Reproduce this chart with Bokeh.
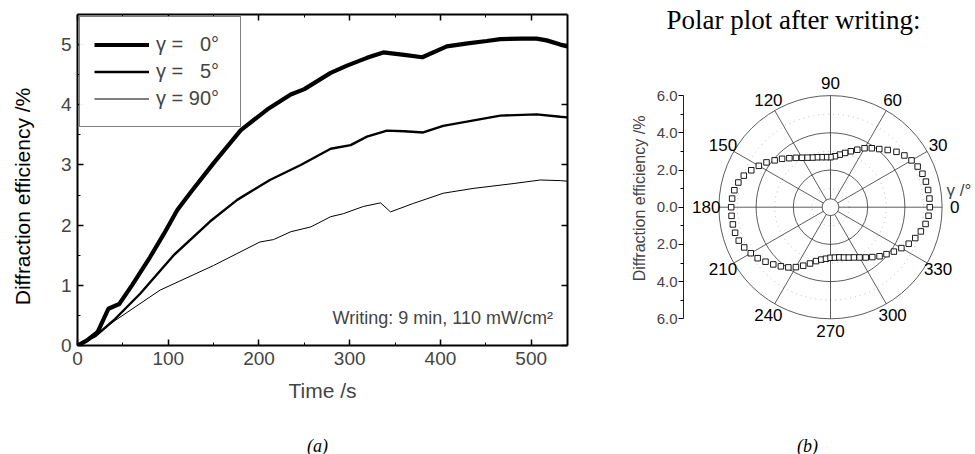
import numpy as np
from bokeh.plotting import figure
from bokeh.layouts import row, column
from bokeh.models import (Range1d, LinearAxis, Legend, LegendItem, Label,
                          FixedTicker, CustomJSTickFormatter, SingleIntervalTicker)
from bokeh.core.properties import value
from bokeh.embed import file_html
from bokeh.resources import INLINE

# ---------------- data (a) ----------------
t_g0 = [0, 10, 22, 34, 46, 60, 80, 95, 110, 125, 150, 180, 209, 235, 250, 279, 297,
        319, 337, 360, 380, 407, 430, 451, 466, 490, 506, 517, 532, 540]
eff_g0 = [0, 0.08, 0.22, 0.61, 0.69, 1.0, 1.47, 1.85, 2.25, 2.55, 3.03, 3.58, 3.92,
          4.17, 4.26, 4.53, 4.65, 4.78, 4.87, 4.83, 4.79, 4.97, 5.02, 5.06, 5.09,
          5.1, 5.1, 5.07, 5.0, 4.97]
t_g5 = [0, 20, 40, 69, 106, 146, 176, 212, 246, 279, 301, 319, 341, 360, 381, 403,
        429, 466, 506, 532, 540]
eff_g5 = [0, 0.16, 0.42, 0.86, 1.5, 2.06, 2.42, 2.75, 3.0, 3.27, 3.33, 3.47, 3.57,
          3.56, 3.54, 3.65, 3.72, 3.82, 3.84, 3.8, 3.79]
t_g90 = [0, 20, 36, 91, 150, 201, 216, 235, 257, 279, 293, 315, 334, 345, 370, 403,
         436, 480, 510, 532, 540]
eff_g90 = [0, 0.15, 0.36, 0.92, 1.33, 1.72, 1.76, 1.89, 1.97, 2.14, 2.19, 2.31, 2.37,
           2.22, 2.36, 2.53, 2.61, 2.69, 2.75, 2.74, 2.73]
legend_labels = ["\u03b3 = \u20070\u00b0", "\u03b3 = \u20075\u00b0", "\u03b3 = 90\u00b0"]

# ---------------- data (b) ----------------
gamma_deg = [0, 5, 10, 15, 20, 25, 30, 35, 40, 45, 50, 55, 60, 65, 70, 75, 80, 85,
             90, 95, 100, 105, 110, 115, 120, 125, 130, 135, 140, 145, 150, 155, 160,
             165, 170, 175, 180, 185, 190, 195, 200, 205, 210, 215, 220, 225, 230, 235,
             240, 245, 250, 255, 260, 265, 270, 275, 280, 285, 290, 295, 300, 305, 310,
             315, 320, 325, 330, 335, 340, 345, 350, 355]
eff_polar = [5.34, 5.34, 5.33, 5.31, 5.26, 5.17, 5.03, 4.85, 4.63, 4.35, 4.08, 3.87,
             3.66, 3.41, 3.2, 3.02, 2.87, 2.75, 2.69, 2.7, 2.73, 2.78, 2.84, 2.94,
             3.07, 3.24, 3.44, 3.68, 3.92, 4.2, 4.45, 4.7, 4.96, 5.13, 5.25, 5.31,
             5.34, 5.34, 5.33, 5.31, 5.25, 5.12, 4.95, 4.78, 4.56, 4.35, 4.15, 3.95,
             3.72, 3.47, 3.22, 3.0, 2.86, 2.78, 2.72, 2.72, 2.74, 2.8, 2.88, 2.98,
             3.12, 3.3, 3.5, 3.73, 3.93, 4.16, 4.4, 4.64, 4.85, 5.03, 5.19, 5.29]
angle_ticks = [0, 30, 60, 90, 120, 150, 180, 210, 240, 270, 300, 330]
radial_ticks = [-6, -4, -2, 0, 2, 4, 6]
radial_minor = [-5, -3, -1, 1, 3, 5]
grid_radii = [2, 4, 6]
minor_radii = [1, 3, 5]

SANS = "Liberation Sans"
SERIF = "Liberation Serif"


def text_panel(w, h):
    """A blank figure whose data units are pixels, used to hold free texts."""
    f = figure(width=w, height=h, output_backend="svg", toolbar_location=None,
               x_range=Range1d(0, w), y_range=Range1d(0, h),
               x_axis_type=None, y_axis_type=None,
               min_border_left=0, min_border_right=0, min_border_top=0,
               min_border_bottom=0)
    f.frame_align = False
    f.outline_line_color = None
    f.xgrid.visible = False
    f.ygrid.visible = False
    return f


# ================= y label of (a) =================
ylab = text_panel(40, 420)
ylab.text(x=[22], y=[420 - 196], text=["Diffraction efficiency /%"], angle=np.pi / 2,
          text_align="center", text_baseline="middle", text_font=value(SANS),
          text_font_size="21px", text_color="black")

# ================= figure (a) =================
p1 = figure(width=550, height=420, output_backend="svg", toolbar_location=None,
            x_range=Range1d(0, 540), y_range=Range1d(0, 5.5),
            min_border_left=37, min_border_right=23, min_border_top=14,
            min_border_bottom=75)
p1.frame_align = False
p1.outline_line_color = None
p1.xgrid.visible = False
p1.ygrid.visible = False

p1.xaxis.ticker = SingleIntervalTicker(interval=100, num_minor_ticks=2)
p1.yaxis.ticker = SingleIntervalTicker(interval=1, num_minor_ticks=2)
for ax in (p1.xaxis[0], p1.yaxis[0]):
    ax.axis_line_width = 2
    ax.major_tick_in = 6
    ax.major_tick_out = 0
    ax.minor_tick_in = 3
    ax.minor_tick_out = 0
    ax.major_tick_line_width = 1.5
    ax.major_label_text_font = SANS
    ax.major_label_text_font_size = "19px"
    ax.major_label_standoff = 6
p1.xaxis.axis_label = "Time /s"
p1.xaxis.axis_label_text_font = SANS
p1.xaxis.axis_label_text_font_size = "21px"
p1.xaxis.axis_label_text_font_style = "normal"
p1.xaxis.axis_label_standoff = 11

no_labels = CustomJSTickFormatter(code="return ''")
top_ax = LinearAxis(ticker=SingleIntervalTicker(interval=100, num_minor_ticks=2),
                    formatter=no_labels, major_label_text_font_size="1px",
                    axis_line_width=2, major_tick_line_width=1.5,
                    major_tick_in=6, major_tick_out=0, minor_tick_in=3,
                    minor_tick_out=0, major_label_standoff=0)
right_ax = LinearAxis(ticker=SingleIntervalTicker(interval=1, num_minor_ticks=0),
                      formatter=no_labels, major_label_text_font_size="1px",
                      axis_line_width=2, major_tick_line_width=1.5,
                      major_tick_in=6, major_tick_out=0, minor_tick_in=0,
                      minor_tick_out=0, major_label_standoff=0)
p1.add_layout(top_ax, "above")
p1.add_layout(right_ax, "right")

r0 = p1.line(t_g0, eff_g0, line_color="black", line_width=4.2)
r5 = p1.line(t_g5, eff_g5, line_color="black", line_width=2.4)
r90 = p1.line(t_g90, eff_g90, line_color="black", line_width=1)

legend = Legend(items=[LegendItem(label=legend_labels[0], renderers=[r0]),
                       LegendItem(label=legend_labels[1], renderers=[r5]),
                       LegendItem(label=legend_labels[2], renderers=[r90])],
                location="top_left")
legend.margin = 2
legend.padding = 14
legend.spacing = 0
legend.label_height = 27
legend.label_width = 70
legend.glyph_height = 27
legend.glyph_width = 55
legend.label_standoff = 7
legend.border_line_color = "black"
legend.border_line_width = 1
legend.label_text_font = SANS
legend.label_text_font_size = "20px"
p1.add_layout(legend)

p1.add_layout(Label(x=524, y=0.45, text="Writing: 9 min, 110 mW/cm\u00b2",
                    text_align="right", text_baseline="alphabetic",
                    text_font=SANS, text_font_size="18px"))

# ================= title of (b) =================
ptitle = text_panel(385, 40)
ptitle.text(x=[793 - 590], y=[40 - 19], text=["Polar plot after writing:"],
            text_align="center", text_baseline="middle", text_font=value(SERIF),
            text_font_size="27px", text_color="black")

# ================= figure (b) =================
S = 18.6           # px per unit
TOP, BOT = 40, 356  # frame top / bottom on the page (px)
CY = 206.7          # pole position on the page (px)
p2 = figure(width=385, height=420 - TOP, output_backend="svg", toolbar_location=None,
            x_range=Range1d(-147 / S, 145 / S),
            y_range=Range1d((CY - BOT) / S, (CY - TOP) / S),
            x_axis_type=None, y_axis_type=None,
            min_border_left=93, min_border_right=0, min_border_top=0,
            min_border_bottom=420 - BOT)
p2.frame_align = False
p2.outline_line_color = None

rad_ax = LinearAxis(bounds=(-6, 6),
                    ticker=FixedTicker(ticks=radial_ticks, minor_ticks=radial_minor),
                    formatter=CustomJSTickFormatter(code="return Math.abs(tick).toFixed(1)"),
                    axis_line_color="#222222", axis_line_width=1,
                    major_tick_out=5, major_tick_in=0, minor_tick_out=3, minor_tick_in=0,
                    major_label_standoff=1, major_label_text_font=SANS,
                    major_label_text_font_size="15px",
                    axis_label="Diffraction efficiency /%", axis_label_standoff=6,
                    axis_label_text_font=SANS, axis_label_text_font_size="16px",
                    axis_label_text_font_style="normal")
p2.add_layout(rad_ax, "left")

p2.circle(x=[0] * len(minor_radii), y=[0] * len(minor_radii), radius=minor_radii,
          fill_color=None, line_color="#aaaaaa", line_width=0.8, line_dash="1 4")
p2.circle(x=[0] * len(grid_radii), y=[0] * len(grid_radii), radius=grid_radii,
          fill_color=None, line_color="#333333", line_width=0.8)
p2.circle(x=[0], y=[0], radius=[0.45], fill_color="white", line_color="#333333",
          line_width=0.8)
ang = np.deg2rad(np.array(angle_ticks, dtype=float))
p2.segment(x0=0.45 * np.cos(ang), y0=0.45 * np.sin(ang),
           x1=6 * np.cos(ang), y1=6 * np.sin(ang),
           line_color="#333333", line_width=0.8)
p2.text(x=6.68 * np.cos(ang), y=6.68 * np.sin(ang), text=[str(a) for a in angle_ticks],
        text_align="center", text_baseline="middle", text_font=value(SANS),
        text_font_size="17px", text_color="black")

g = np.deg2rad(np.array(gamma_deg, dtype=float))
rr = np.array(eff_polar)
p2.scatter(rr * np.cos(g), rr * np.sin(g), marker="square", size=5.5,
           fill_color="white", line_color="black", line_width=0.9)

p2.add_layout(Label(x=(946 - 830) / S, y=0.9, text="\u03b3 /\u00b0", text_align="left",
                    text_baseline="alphabetic", text_font=SANS, text_font_size="17px"))

# ================= captions =================
cap = text_panel(975, 34)
cap.text(x=[317, 807], y=[34 - 25, 34 - 25], text=["(a)", "(b)"],
         text_align="center", text_baseline="middle", text_font=value(SERIF),
         text_font_style="italic", text_font_size="18px", text_color="black")

layout = column(row(ylab, p1, column(ptitle, p2)), cap)
open("out.html", "w").write(file_html(layout, INLINE))
